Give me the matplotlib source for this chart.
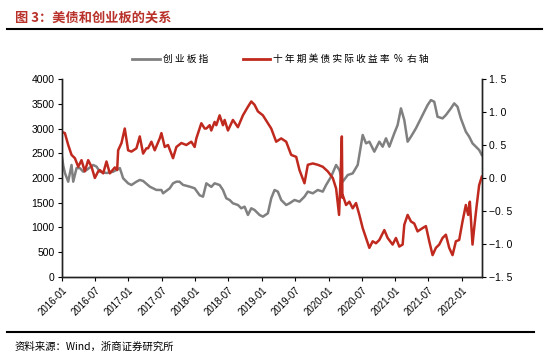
import numpy as np
import pandas as pd
import matplotlib
matplotlib.use('Agg')
import matplotlib.pyplot as plt
from matplotlib.ticker import FuncFormatter

plt.rcParams['font.family'] = ['Liberation Sans', 'Noto Sans CJK SC', 'DejaVu Sans']
plt.rcParams['axes.unicode_minus'] = True

# 创业板指 (left axis): months since 2016-01, index level
gem_t = [0.0, 0.3, 0.6, 1.19, 1.79, 2.09, 2.69, 3.29, 3.88, 4.48, 5.68, 6.28, 6.88,
         8.07, 9.27, 10.47, 11.07, 11.96, 12.56, 13.46, 14.06, 14.66, 15.85, 17.05,
         17.95, 18.25, 19.44, 20.04, 20.64, 21.2, 21.84, 23.03, 23.93, 24.83, 25.43,
         26.03, 26.92, 27.52, 28.42, 29.02, 29.62, 30.22, 30.81, 31.71, 32.31, 32.91,
         33.51, 34.11, 34.70, 35.60, 36.20, 37.10, 37.70, 38.30, 38.89, 39.49, 40.39,
         40.99, 41.89, 42.78, 43.68, 44.28, 45.18, 46.07, 46.97, 47.57, 48.47, 49.37,
         49.96, 50.56, 51.46, 52.35, 53.25, 54.15, 54.75, 55.35, 56.24, 57.14, 57.74,
         58.34, 58.94, 59.83, 60.43, 61.03, 61.63, 62.23, 62.83, 63.72, 64.62, 65.22,
         65.82, 66.42, 67.02, 67.61, 68.51, 69.11, 70.01, 70.61, 71.20, 71.80, 72.70,
         73.30, 73.90, 74.50, 75.09, 75.57]
gem_v = [2480, 2250, 2100, 1925, 2263, 1925, 2200, 2200, 2127, 2160, 2263, 2230, 2127,
         2100, 2127, 2200, 1993, 1892, 1858, 1925, 1960, 1940, 1825, 1758,
         1757, 1690, 1790, 1892, 1925, 1925, 1860, 1825, 1791, 1650, 1622,
         1892, 1820, 1892, 1858, 1757, 1589, 1555, 1488, 1454, 1387, 1420,
         1252, 1387, 1353, 1252, 1218, 1286, 1589, 1757, 1724, 1555, 1454,
         1488, 1555, 1521, 1622, 1724, 1690, 1757, 1724, 1858, 2026, 2263,
         2161, 1925, 2060, 2093, 2263, 2869, 2700, 2734, 2532, 2734, 2633,
         2802, 2633, 2903, 3070, 3407, 3171, 2734, 2835, 3003, 3205, 3340,
         3474, 3575, 3541, 3238, 3205, 3272, 3407, 3508, 3440, 3205, 2936,
         2835, 2700, 2633, 2566, 2465]

# 十年期美债实际收益率 % (right axis)
tips_t = [0.0, 0.59, 1.19, 1.79, 2.39, 2.99, 3.58, 4.18, 4.78, 5.38, 5.98, 6.58, 6.88,
          7.48, 8.07, 8.67, 9.57, 9.99, 10.17, 10.77, 11.36, 11.96, 12.56, 13.46,
          14.06, 14.66, 15.25, 15.55, 16.15, 16.75, 17.65, 17.95, 18.55, 19.14, 20.04,
          20.64, 21.54, 22.43, 23.33, 23.93, 24.23, 25.13, 25.73, 26.03, 26.62, 26.92,
          27.52, 27.82, 28.42, 29.02, 29.32, 29.92, 30.81, 31.71, 32.61, 33.51, 34.11,
          34.70, 35.30, 36.20, 37.10, 37.70, 38.59, 39.49, 40.39, 41.29, 42.19, 42.78,
          43.68, 44.28, 45.18, 46.07, 46.97, 47.87, 48.77, 49.37, 49.90, 50.15, 50.40,
          50.50, 50.56, 51.16, 51.75, 52.35, 52.95, 53.55, 54.15, 54.75, 55.35, 55.94,
          56.54, 57.14, 58.04, 58.64, 59.53, 60.13, 60.73, 61.33, 61.63, 62.23, 62.83,
          63.42, 64.02, 64.92, 65.52, 66.12, 66.72, 67.31, 67.91, 68.51, 69.11, 69.71,
          70.31, 70.91, 71.50, 72.10, 72.70, 73.12, 73.42, 73.90, 74.20, 74.62, 75.09,
          75.57]
tips_v = [0.70, 0.68, 0.50, 0.35, 0.30, 0.17, 0.27, 0.10, 0.27, 0.17, 0.00, 0.10, 0.12,
          0.07, 0.25, 0.07, 0.16, 0.12, 0.42, 0.53, 0.75, 0.42, 0.40, 0.45,
          0.63, 0.37, 0.45, 0.45, 0.55, 0.42, 0.60, 0.68, 0.47, 0.50, 0.30,
          0.47, 0.53, 0.50, 0.55, 0.47, 0.60, 0.83, 0.75, 0.75, 0.80, 0.72,
          0.85, 0.80, 0.95, 0.80, 0.88, 0.72, 0.88, 0.77, 0.95, 1.08, 1.16,
          1.11, 1.01, 0.95, 0.83, 0.75, 0.55, 0.60, 0.55, 0.35, 0.32, 0.12,
          -0.08, 0.20, 0.22, 0.20, 0.17, 0.10, 0.00, -0.16, -0.56, -0.05, 0.63,
          -0.30, -0.26, -0.41, -0.36, -0.46, -0.38, -0.56, -0.76, -0.91, -1.06, -0.96,
          -0.99, -0.94, -0.79, -0.91, -1.01, -0.91, -1.04, -1.01, -0.71, -0.56, -0.66,
          -0.69, -0.81, -0.76, -0.73, -0.96, -1.17, -1.06, -1.01, -0.91, -0.86, -1.06,
          -1.17, -0.96, -0.94, -0.66, -0.41, -0.56, -0.36, -1.01, -0.76, -0.44, -0.11,
          0.02]

base = pd.Timestamp('2016-01-01')
gem_d = base + pd.to_timedelta(np.array(gem_t) * 30.437, unit='D')
tips_d = base + pd.to_timedelta(np.array(tips_t) * 30.437, unit='D')

gray = '#808080'
red = '#C0291E'
cjk = ['Noto Sans CJK SC', 'DejaVu Sans']

fig = plt.figure(figsize=(5.5, 3.61), dpi=100)
ax = fig.add_axes([0.112, 0.233, 0.764, 0.548])
ax2 = ax.twinx()

ax.plot(gem_d, gem_v, color=gray, lw=1.8)
ax2.plot(tips_d, tips_v, color=red, lw=1.8)

ax.set_ylim(0, 4000)
ax.set_yticks(range(0, 4001, 500))
ax2.set_ylim(-1.5, 1.5)
ax2.set_yticks(np.arange(-1.5, 1.51, 0.5))
ax2.yaxis.set_major_formatter(FuncFormatter(lambda v, p: f'{v:.1f}'.replace('.', '. ').replace('-', '\u2212')))

ax.set_xlim(base, gem_d[-1])
xt = pd.date_range('2016-01-01', '2022-01-01', freq='6MS')
ax.set_xticks(xt)
ax.set_xticklabels([d.strftime('%Y-%m') for d in xt], rotation=45, ha='right',
                   rotation_mode='anchor')

for a in (ax, ax2):
    a.spines['top'].set_visible(False)
    for s in a.spines.values():
        s.set_linewidth(1.0)
        s.set_color('#222222')
    a.tick_params(labelsize=7.5, length=3, width=0.8, pad=2)
ax.tick_params(axis='x', labelsize=7, pad=3)

fig.text(0.027, 0.952, '图 3：美债和创业板的关系', color='#B8312A', fontsize=9.5,
         fontweight='bold', family=cjk, va='center')
fig.add_artist(plt.Line2D([0.013, 0.985], [0.921, 0.921], color='black', lw=1.5))
fig.add_artist(plt.Line2D([0.013, 0.97], [0.081, 0.081], color='black', lw=1.5))
fig.text(0.027, 0.04, '资料来源：Wind，浙商证券研究所', fontsize=7.5, family=cjk,
         va='center')

# legend
fig.add_artist(plt.Line2D([0.24, 0.29], [0.837, 0.837], color=gray, lw=2))
fig.text(0.296, 0.837, '创 业 板 指', fontsize=7, family=cjk, va='center')
fig.add_artist(plt.Line2D([0.442, 0.491], [0.837, 0.837], color=red, lw=2))
fig.text(0.497, 0.837, '十 年 期 美 债 实 际 收 益 率  %  右 轴', fontsize=7,
         family=cjk, va='center')

fig.savefig('out.png', dpi=100)
